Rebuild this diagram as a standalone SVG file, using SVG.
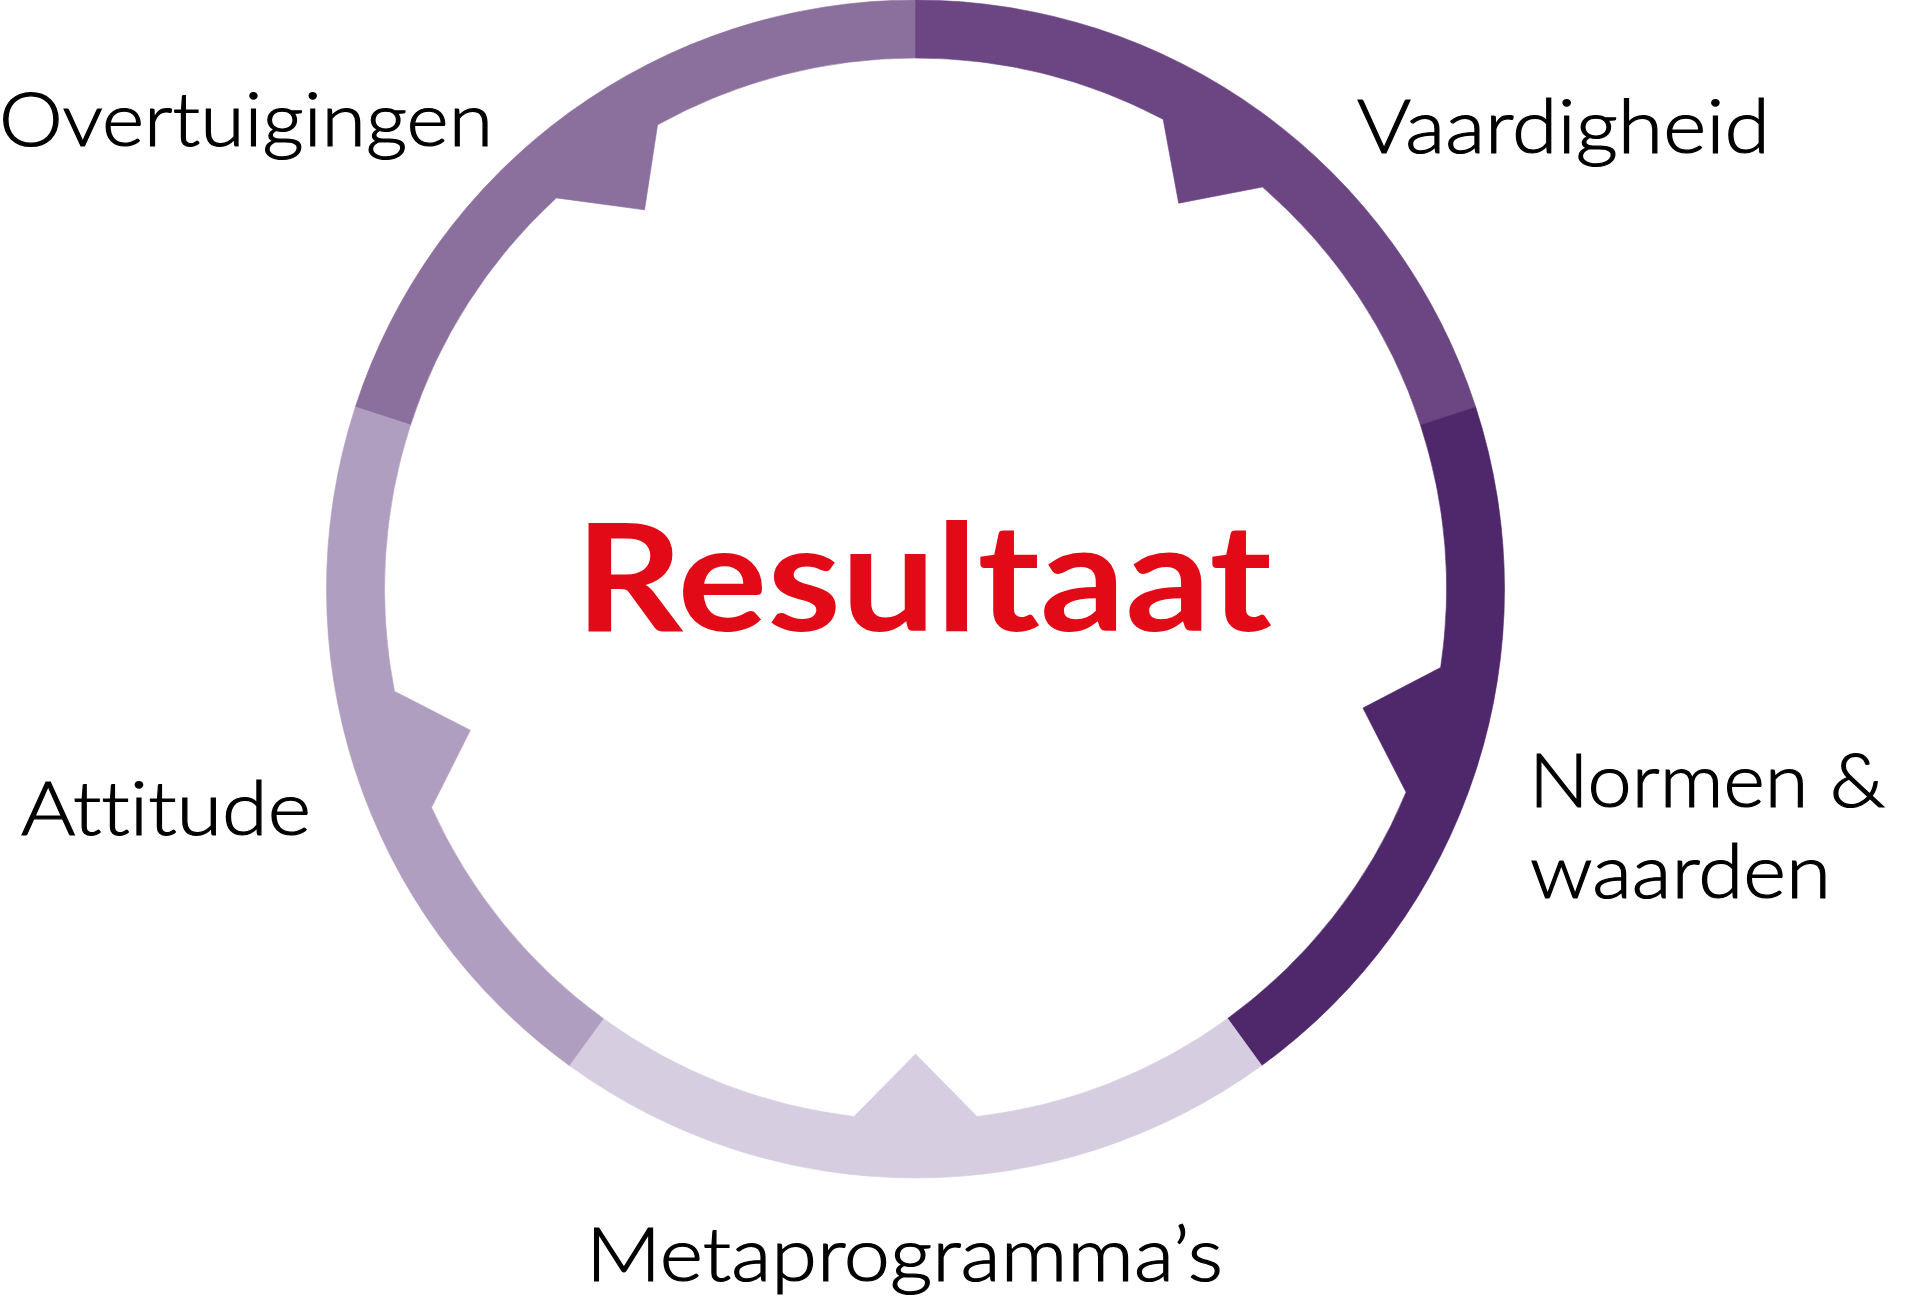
<svg xmlns="http://www.w3.org/2000/svg" width="1905" height="1297" viewBox="0 0 1905 1297">
  <style>
    .label { font-family: Lato, "Open Sans", "Liberation Sans", sans-serif; font-weight: 300; font-size: 75px; fill: #000000; stroke: #000000; stroke-width: 1.2px; font-variant-ligatures: none; }
    .center { font-family: Lato, "Open Sans", "Liberation Sans", sans-serif; font-weight: 700; font-size: 149px; fill: #E30A17; font-variant-ligatures: none; }
    .seg { stroke-width: 0.6; stroke-linejoin: miter; }
  </style>
  <rect x="0" y="0" width="1905" height="1297" fill="#FFFFFF"/>

  <g id="overtuigingen">
    <path class="seg" fill="#8B6F9D" stroke="#8B6F9D" d="M 355.33,406.99 A 589 589 0 0 1 915.5,0 L 915.5,58 A 531 531 0 0 0 657.59,124.84 L 644.56,209.87 L 556.31,197.92 A 531 531 0 0 0 410.49,424.91 Z"/>
    <text class="label" x="-1" y="146" textLength="494" lengthAdjust="spacingAndGlyphs">Overtuigingen</text>
  </g>

  <g id="vaardigheid">
    <path class="seg" fill="#6C4583" stroke="#6C4583" d="M 915.5,0 A 589 589 0 0 1 1475.67,406.99 L 1420.51,424.91 A 531 531 0 0 0 1262.47,187.03 L 1178.67,203.21 L 1163.13,119.28 A 531 531 0 0 0 915.5,58 Z"/>
    <text class="label" x="1357" y="153" textLength="413" lengthAdjust="spacingAndGlyphs">Vaardigheid</text>
  </g>

  <g id="normen-waarden">
    <path class="seg" fill="#4F276B" stroke="#4F276B" d="M 1475.67,406.99 A 589 589 0 0 1 1261.71,1065.51 L 1227.61,1018.59 A 531 531 0 0 0 1406.08,792.20 L 1362.93,708.05 L 1440.67,667.49 A 531 531 0 0 0 1420.51,424.91 Z"/>
    <text class="label" x="1529" y="807" textLength="356" lengthAdjust="spacingAndGlyphs">Normen &amp;</text>
    <text class="label" x="1530" y="898" textLength="301" lengthAdjust="spacingAndGlyphs">waarden</text>
  </g>

  <g id="metaprogrammas">
    <path class="seg" fill="#D6CDE1" stroke="#D6CDE1" d="M 1261.71,1065.51 A 589 589 0 0 1 569.29,1065.51 L 603.39,1018.59 A 531 531 0 0 0 854.01,1116.43 L 915.5,1054 L 976.99,1116.43 A 531 531 0 0 0 1227.61,1018.59 Z"/>
    <text class="label" x="586" y="1281" textLength="637" lengthAdjust="spacingAndGlyphs">Metaprogramma’s</text>
  </g>

  <g id="attitude">
    <path class="seg" fill="#B09EC0" stroke="#B09EC0" d="M 569.29,1065.51 A 589 589 0 0 1 355.33,406.99 L 410.49,424.91 A 531 531 0 0 0 394.43,691.23 L 470.36,730.21 L 431.55,807.51 A 531 531 0 0 0 603.39,1018.59 Z"/>
    <text class="label" x="21" y="835" textLength="290" lengthAdjust="spacingAndGlyphs">Attitude</text>
  </g>

  <g id="resultaat">
    <text class="center" x="575" y="631" textLength="697" lengthAdjust="spacingAndGlyphs">Resultaat</text>
  </g>
</svg>
